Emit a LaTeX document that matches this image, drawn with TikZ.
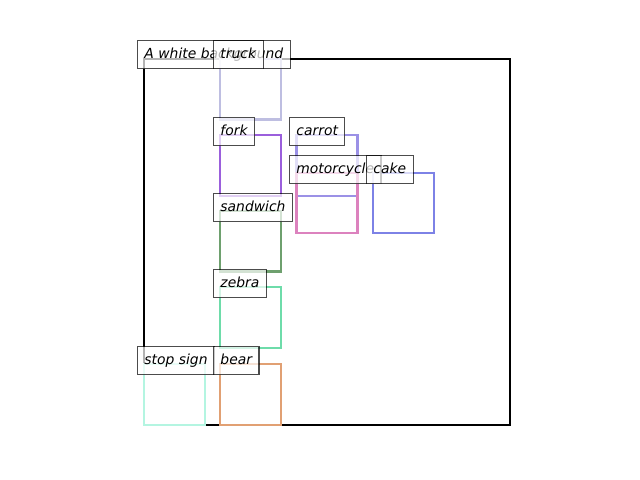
\documentclass[tikz,border=0pt]{standalone}
\usepackage{fontspec}
\setmainfont{DejaVu Sans}
\definecolor{ctruck}{RGB}{190,190,225}
\definecolor{cfork}{RGB}{155,95,220}
\definecolor{ccarrot}{RGB}{155,145,230}
\definecolor{cmoto}{RGB}{220,130,190}
\definecolor{ccake}{RGB}{125,130,230}
\definecolor{csand}{RGB}{110,160,110}
\definecolor{czebra}{RGB}{110,220,170}
\definecolor{cstop}{RGB}{180,245,225}
\definecolor{cbear}{RGB}{225,160,115}
\tikzset{
  bx/.style={line width=1.55pt},
  lbl/.style={draw=black, draw opacity=0.7, line width=0.75pt, fill=white, fill opacity=0.7, text opacity=1,
    font=\fontsize{10}{12}\selectfont\itshape, inner xsep=5pt, inner ysep=0pt,
    minimum height=20.2pt, text height=7.6pt, text depth=2.2pt, anchor=north west}
}
\begin{document}
\begin{tikzpicture}[x=0.72pt,y=-0.72pt]
\useasboundingbox (0,0) rectangle (640,480);
\draw[bx, black] (144,59) rectangle (510,425);
\draw[bx, ctruck] (220.3,59) rectangle (281.3,119.5);
\draw[bx, cfork] (220.3,135.3) rectangle (281.3,196);
\draw[bx, ccarrot] (296.5,135.3) rectangle (357.5,196);
\draw[bx, cmoto] (296.5,172.8) rectangle (357.5,233.3);
\draw[bx, ccake] (373,172.8) rectangle (434,233.3);
\draw[bx, csand] (220.3,211) rectangle (281.3,271.5);
\draw[bx, czebra] (220.3,287.3) rectangle (281.3,348);
\draw[bx, cstop] (144,364) rectangle (205,425);
\draw[bx, cbear] (220.3,364) rectangle (281.3,425);
\node[lbl] (lbg) at (137,40) {A white background};
\node[lbl] (ltruck) at (213,40) {truck};
\node[lbl] (lfork) at (213,117) {fork};
\node[lbl] (lcarrot) at (289,117) {carrot};
\node[lbl] (lmoto) at (289,155) {motorcycle};
\node[lbl] (lcake) at (366,155) {cake};
\node[lbl] (lsand) at (213,193) {sandwich};
\node[lbl] (lzebra) at (213,269) {zebra};
\node[lbl] (lstop) at (137,346) {stop sign};
\node[lbl] (lbear) at (213,346) {bear};
\end{tikzpicture}
\end{document}
